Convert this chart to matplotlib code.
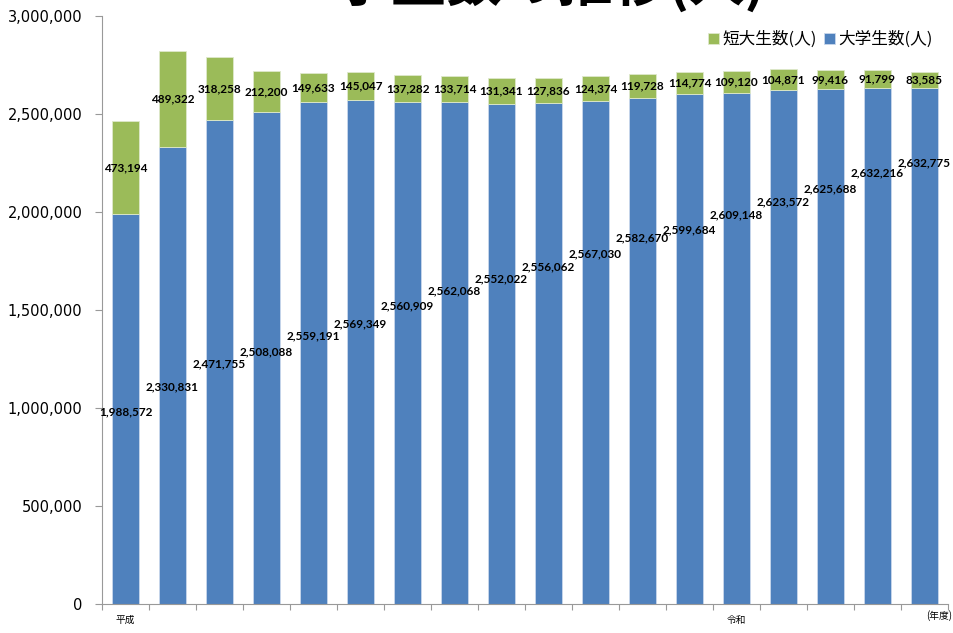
import matplotlib
matplotlib.use("Agg")
import matplotlib.pyplot as plt
import matplotlib.ticker as mticker
from matplotlib.patches import Rectangle
import numpy as np

plt.rcParams['font.family'] = ['Noto Sans CJK JP', 'DejaVu Sans']

# データ（平成〜令和、18年度分）
daigaku = [1988572, 2330831, 2471755, 2508088, 2559191, 2569349, 2560909, 2562068, 2552022,
           2556062, 2567030, 2582670, 2599684, 2609148, 2623572, 2625688, 2632216, 2632775]
tandai = [473194, 489322, 318258, 212200, 149633, 145047, 137282, 133714, 131341,
          127836, 124374, 119728, 114774, 109120, 104871, 99416, 91799, 83585]
# 大学生数ラベルの高さ（元の図で手動配置されている位置）
daigaku_label_y = [981000, 1109000, 1227000, 1288000, 1370000, 1431000, 1523000, 1600000, 1661000,
                   1722000, 1784000, 1866000, 1911000, 1983000, 2054000, 2116000, 2198000, 2249000]
xlabels = ['平成'] + [''] * 12 + ['令和'] + [''] * 4

blue = '#4f81bd'
green = '#9bbb59'

fig = plt.figure(figsize=(9.54, 6.33), dpi=100)
ax = fig.add_axes([102 / 954, 29 / 633, 846 / 954, 588 / 633])

x = np.arange(len(daigaku))
b1 = ax.bar(x, daigaku, width=0.58, color=blue, edgecolor='#c9d8ec', linewidth=0.6, label='大学生数(人)')
b2 = ax.bar(x, tandai, width=0.58, bottom=daigaku, color=green, edgecolor='#dfe9cc', linewidth=0.6,
            label='短大生数(人)')

ax.bar_label(b2, labels=[f'{v:,}' for v in tandai], label_type='center',
             fontsize=8.5, fontweight='bold', family=['Lato', 'DejaVu Sans'])
for i, v in enumerate(daigaku):
    ax.text(i, daigaku_label_y[i], f'{v:,}', ha='center', va='center',
            fontsize=8.5, fontweight='bold', family=['Lato', 'DejaVu Sans'])

ax.set_xlim(-0.5, len(daigaku) - 0.5)
ax.set_ylim(0, 3000000)
ax.yaxis.set_major_locator(mticker.MultipleLocator(500000))
ax.yaxis.set_major_formatter(mticker.FuncFormatter(lambda v, p: f'{int(v):,}'))
for t in ax.get_yticklabels():
    t.set_family('DejaVu Sans')
    t.set_fontsize(10.5)
ax.tick_params(axis='y', length=5, color='#999999', pad=9)

ax.set_xticks(np.arange(len(daigaku) + 1) - 0.5)
ax.set_xticklabels([])
ax.set_xticks(x, minor=True)
ax.set_xticklabels(xlabels, minor=True, fontsize=7)
ax.tick_params(axis='x', which='major', length=4, color='#999999')
ax.tick_params(axis='x', which='minor', length=0, pad=8)
ax.annotate('(年度)', xy=(0.99, 0), xycoords='axes fraction', xytext=(0, -12),
            textcoords='offset points', ha='center', va='bottom', fontsize=7)

for s in ['top', 'right']:
    ax.spines[s].set_visible(False)
ax.spines['left'].set_color('#999999')
ax.spines['bottom'].set_color('#999999')

h, l = ax.get_legend_handles_labels()
ax.legend(h[::-1], l[::-1], loc='upper right', bbox_to_anchor=(1.0, 1.0), ncol=2, frameon=False,
          fontsize=12, handlelength=0.7, handleheight=0.7, handletextpad=0.2, columnspacing=0.4)

# タイトル（上端で切れている）: 一つのフォントだけで描き、上端の帯に切り抜く
title = fig.text(766 / 954, 1 - 0.3 / 633, '学生数の推移(人)', ha='right', va='baseline',
                 fontsize=40, fontweight='bold', family='Noto Sans CJK JP')
title.set_clip_path(Rectangle((0, 1 - 14 / 633), 1, 14 / 633, transform=fig.transFigure))

plt.savefig('out.png', dpi=100)
